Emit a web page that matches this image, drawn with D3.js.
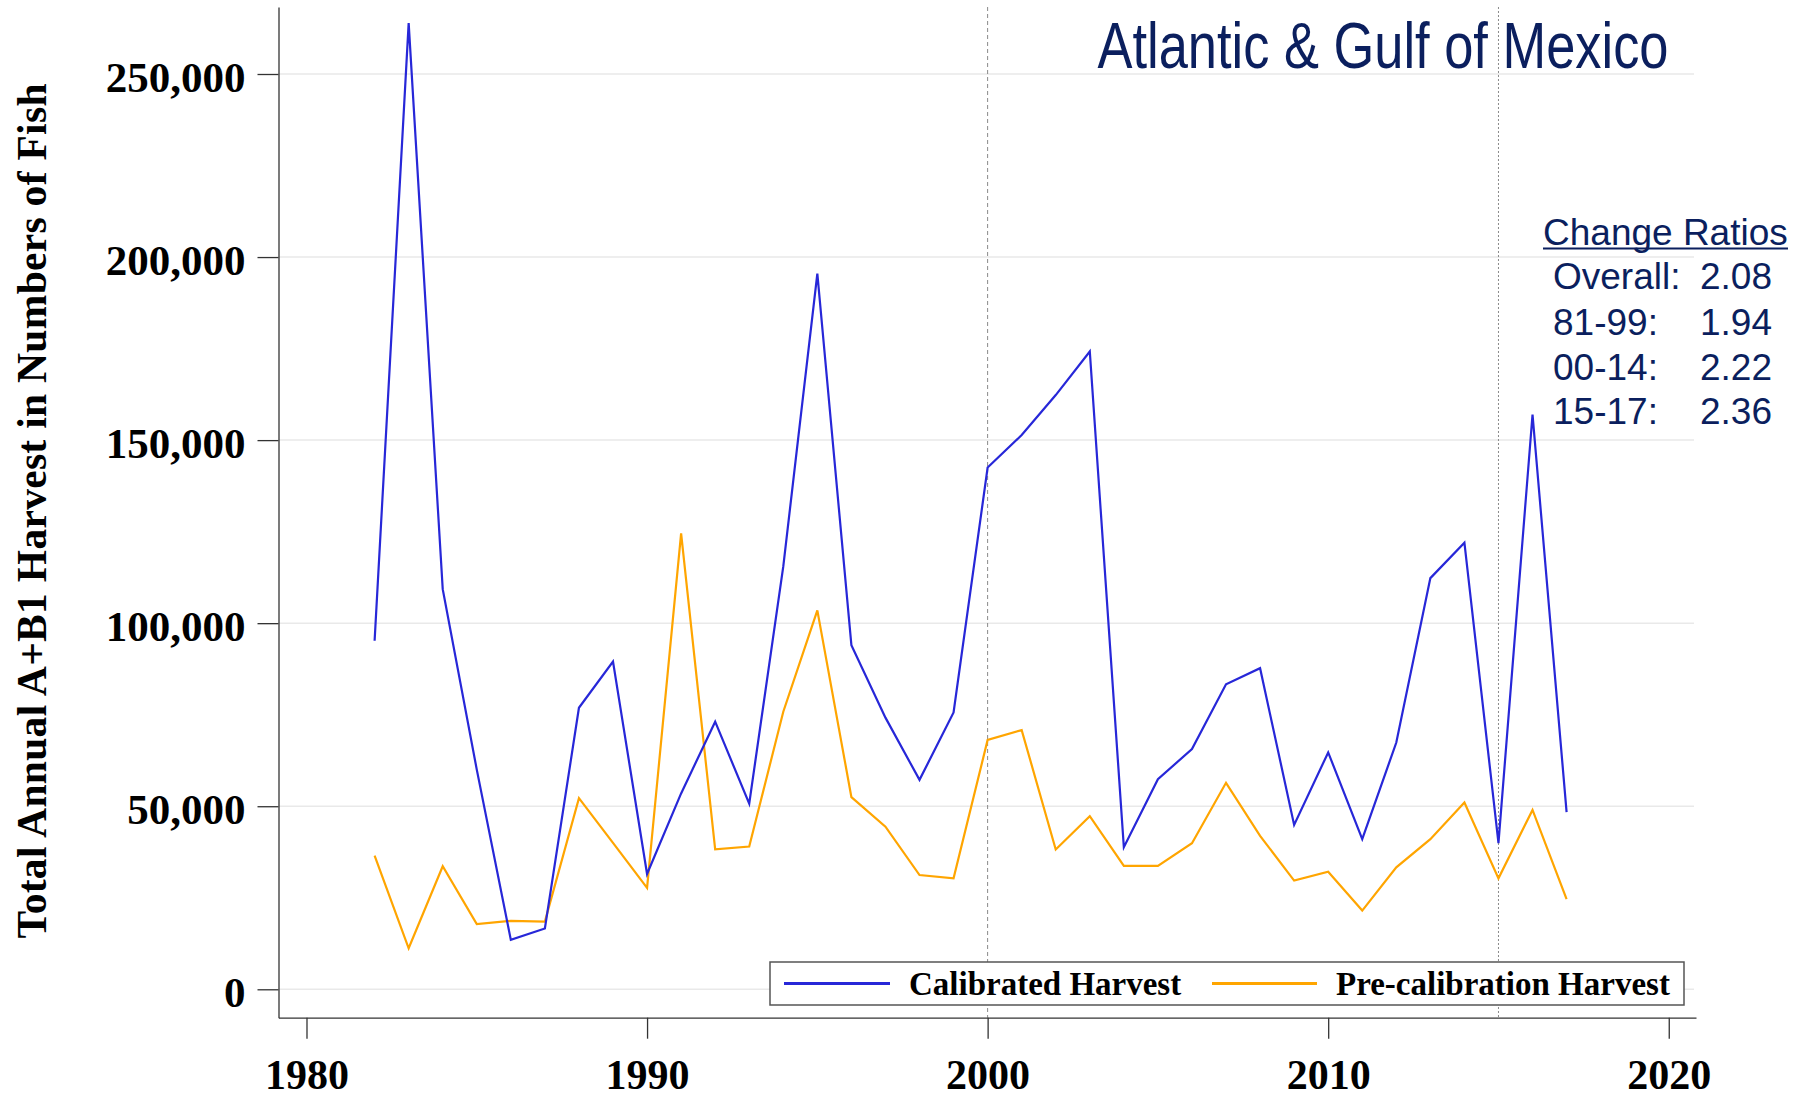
<!DOCTYPE html>
<html>
<head>
<meta charset="utf-8">
<script src="https://cdn.jsdelivr.net/npm/d3@7"></script>
<style>
  html, body { margin: 0; padding: 0; background: #fff; }
  svg { display: block; }
</style>
</head>
<body>
<svg id="chart" width="1796" height="1098"></svg>
<script>
// ---- data ----
const years = [1982,1983,1984,1985,1986,1987,1988,1989,1990,1991,1992,1993,1994,1995,1996,1997,1998,1999,
               2000,2001,2002,2003,2004,2005,2006,2007,2008,2009,2010,2011,2012,2013,2014,2015,2016,2017];
const calibrated = [95200,263900,109300,60000,13500,16600,76900,89500,31500,53500,73100,50700,115500,195500,94000,74200,57200,75600,
                    142500,151400,162300,174200,38800,57400,65600,83300,87700,44900,64700,41000,67400,112300,122000,39900,157000,48400];
const precalibration = [36500,11200,33600,17800,18700,18500,52200,40000,27700,124500,38200,39000,75800,103500,52500,44400,31200,30300,
                        68100,70800,38200,47300,33700,33700,39900,56400,41900,29700,32100,21500,33300,41000,51000,30300,49000,24600];
const yTicks = [0, 50000, 100000, 150000, 200000, 250000];
const xTicks = [1980, 1990, 2000, 2010, 2020];
const periodBreaks = [2000, 2015];
const seriesNames = ["Calibrated Harvest", "Pre-calibration Harvest"];
const titleText = "Atlantic & Gulf of Mexico";
const yTitle = "Total Annual A+B1 Harvest in Numbers of Fish";
const ratioHeader = "Change Ratios";
const ratioLabels = ["Overall:", "81-99:", "00-14:", "15-17:"];
const ratioValues = ["2.08", "1.94", "2.22", "2.36"];

// ---- layout ----
const BLUE = "#2727d8", ORANGE = "#ffa500", NAVY = "#0b1f5e";
const svg = d3.select("#chart");
const x = d3.scaleLinear().domain([1979.178, 2020.80]).range([278.5, 1696]);
const y = d3.scaleLinear().domain([-7760, 268300]).range([1017.7, 7]);
const serif = "'Liberation Serif','Times New Roman',serif";
const sans = "'Liberation Sans',Arial,sans-serif";

// gridlines
svg.append("g").selectAll("line").data(yTicks).join("line")
  .attr("x1", x.range()[0]).attr("x2", 1694)
  .attr("y1", d => y(d)).attr("y2", d => y(d))
  .attr("stroke", "#e9e9e9").attr("stroke-width", 1.5);

// period dashed lines
svg.append("g").selectAll("line").data(periodBreaks).join("line")
  .attr("x1", d => x(d)).attr("x2", d => x(d))
  .attr("y1", y.range()[1]).attr("y2", y.range()[0])
  .attr("stroke", "#8a8a8a").attr("stroke-width", 1)
  .attr("stroke-dasharray", (d, i) => i === 0 ? "4,3" : "2,2");

// axes
const yAxis = svg.append("g").attr("transform", `translate(${x.range()[0]},0)`)
  .call(d3.axisLeft(y).tickValues(yTicks).tickSize(21).tickSizeOuter(0).tickPadding(12)
        .tickFormat(d3.format(",")));
const xAxis = svg.append("g").attr("transform", `translate(0,${y.range()[0]})`)
  .call(d3.axisBottom(x).tickValues(xTicks).tickSize(21).tickSizeOuter(0).tickFormat(d3.format("d")));
[yAxis, xAxis].forEach(g => {
  g.select(".domain").attr("stroke", "#333").attr("stroke-width", 1.3);
  g.selectAll(".tick line").attr("stroke", "#333").attr("stroke-width", 1.3);
  g.selectAll(".tick text").attr("fill", "#000").style("font-family", serif)
    .style("font-weight", "bold").style("font-size", "43px");
});
yAxis.selectAll(".tick text").attr("dy", "0.38em").attr("y", 1);
xAxis.selectAll(".tick text").style("font-size", "42px").attr("y", 0).attr("dy", 0)
  .attr("transform", `translate(0,${1088.5 - y.range()[0]})`);

// lines
const line = d3.line().x((d, i) => x(years[i])).y(d => y(d));
svg.append("path").datum(precalibration).attr("d", line)
  .attr("fill", "none").attr("stroke", ORANGE).attr("stroke-width", 2.2).attr("stroke-linejoin", "miter");
svg.append("path").datum(calibrated).attr("d", line)
  .attr("fill", "none").attr("stroke", BLUE).attr("stroke-width", 2.2).attr("stroke-linejoin", "miter");

// y-axis title
svg.append("text")
  .attr("transform", "translate(46,511) rotate(-90)")
  .attr("text-anchor", "middle")
  .attr("textLength", 855).attr("lengthAdjust", "spacing")
  .style("font-family", serif).style("font-weight", "bold").style("font-size", "41.5px")
  .attr("fill", "#000").text(yTitle);

// chart title
svg.append("text").attr("x", 1097.5).attr("y", 68)
  .attr("textLength", 571).attr("lengthAdjust", "spacingAndGlyphs")
  .style("font-family", sans).style("font-size", "64px").attr("fill", NAVY).text(titleText);

// change ratios
const cr = svg.append("g").attr("fill", NAVY).style("font-family", sans).style("font-size", "37px");
cr.append("text").attr("x", 1543).attr("y", 245).text(ratioHeader);
cr.append("rect").attr("x", 1543).attr("y", 247.5).attr("width", 245).attr("height", 2).attr("fill", NAVY);
const rowY = [289, 334.5, 379.5, 423.5];
cr.selectAll("text.lab").data(ratioLabels).join("text").attr("class", "lab")
  .attr("x", 1553).attr("y", (d, i) => rowY[i]).text(d => d);
cr.selectAll("text.val").data(ratioValues).join("text").attr("class", "val")
  .attr("x", 1700).attr("y", (d, i) => rowY[i]).text(d => d);

// legend
const lg = svg.append("g");
lg.append("rect").attr("x", 770).attr("y", 962).attr("width", 914).attr("height", 43)
  .attr("fill", "#fff").attr("stroke", "#555").attr("stroke-width", 1.5);
const legItems = [
  { name: seriesNames[0], color: BLUE, x0: 784, x1: 890, tx: 909 },
  { name: seriesNames[1], color: ORANGE, x0: 1212, x1: 1317, tx: 1336 }
];
legItems.forEach(it => {
  lg.append("line").attr("x1", it.x0).attr("x2", it.x1).attr("y1", 983.5).attr("y2", 983.5)
    .attr("stroke", it.color).attr("stroke-width", 3);
  lg.append("text").attr("x", it.tx).attr("y", 995)
    .style("font-family", serif).style("font-weight", "bold").style("font-size", "33px")
    .attr("fill", "#000").text(it.name);
});
</script>
</body>
</html>
